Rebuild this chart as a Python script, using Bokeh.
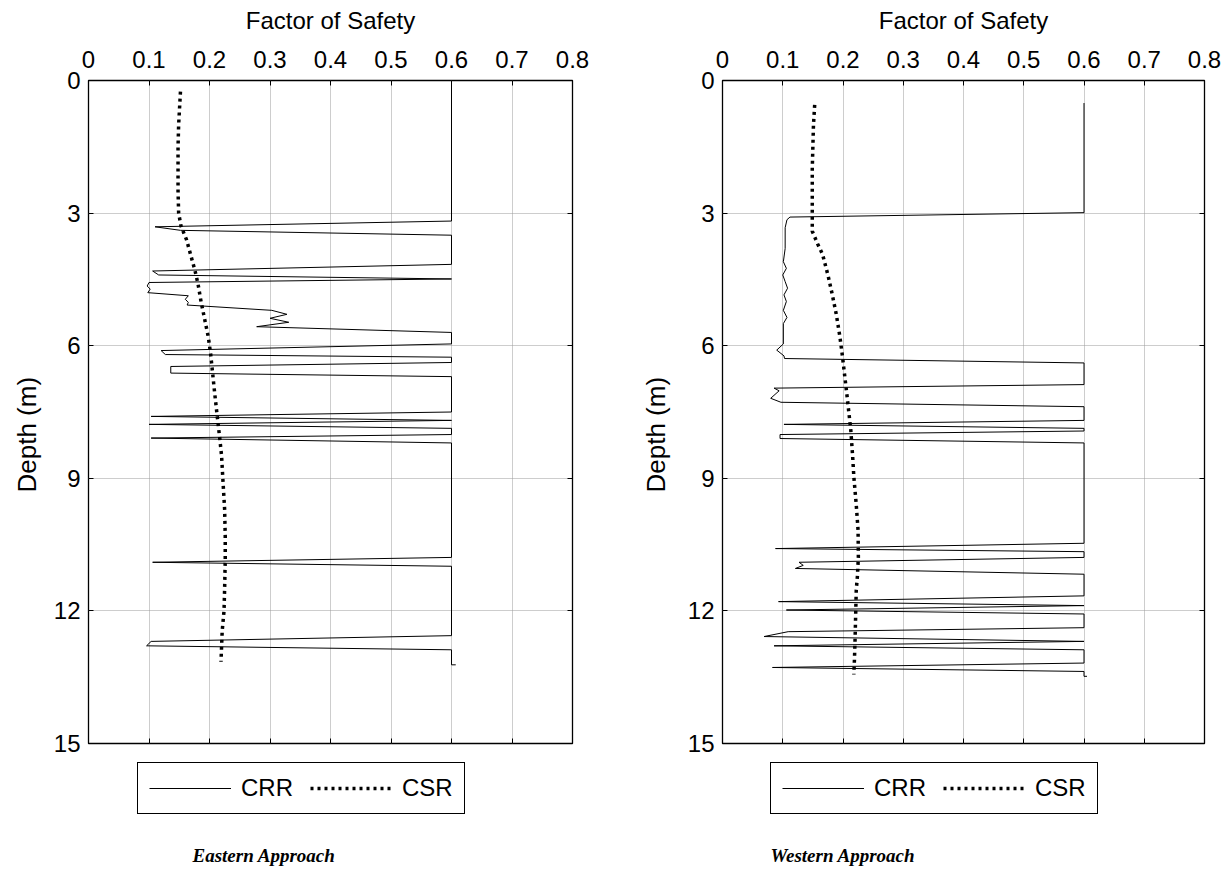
from bokeh.plotting import figure
from bokeh.models import (Range1d, LinearAxis, FixedTicker, NumeralTickFormatter,
                          Legend, LegendItem, Title, Label, CustomJSTickFormatter)
from bokeh.layouts import row, column
from bokeh.embed import file_html
from bokeh.resources import INLINE

# ---------------- data ----------------
x_ticks = [0, 0.1, 0.2, 0.3, 0.4, 0.5, 0.6, 0.7, 0.8]
y_ticks = [0, 3, 6, 9, 12, 15]

# Eastern Approach
east_csr_depth = [0.25, 0.5, 1.0, 1.5, 2.0, 2.5, 3.0, 3.3, 3.6, 4.0, 4.3, 4.6, 5.0, 5.4, 5.8,
                  6.2, 6.6, 7.0, 7.5, 8.1, 8.5, 9.0, 9.7, 10.3, 10.85, 11.5, 12.0, 12.45, 12.8, 13.15]
east_csr_value = [0.152, 0.151, 0.149, 0.148, 0.148, 0.148, 0.149, 0.153, 0.162, 0.170, 0.176,
                  0.181, 0.186, 0.192, 0.198, 0.202, 0.205, 0.208, 0.212, 0.217, 0.220, 0.222,
                  0.225, 0.226, 0.226, 0.225, 0.224, 0.221, 0.220, 0.219]
east_crr_depth = [0.0, 3.18, 3.31, 3.39, 3.5, 4.16, 4.31, 4.40, 4.49, 4.57, 4.65, 4.72, 4.80,
                  4.87, 4.95, 5.02, 5.08, 5.20, 5.29, 5.38, 5.47, 5.57, 5.70, 5.96, 6.11, 6.20,
                  6.26, 6.38, 6.47, 6.62, 6.70, 7.50, 7.60, 7.69, 7.78, 7.87, 8.01, 8.09, 8.20,
                  10.79, 10.90, 10.99, 12.56, 12.69, 12.79, 12.88, 13.22, 13.22]
east_crr_value = [0.6, 0.6, 0.110, 0.152, 0.6, 0.6, 0.106, 0.116, 0.6, 0.100, 0.097, 0.102, 0.098,
                  0.165, 0.160, 0.165, 0.163, 0.303, 0.328, 0.300, 0.331, 0.278, 0.6, 0.6, 0.120,
                  0.127, 0.6, 0.6, 0.136, 0.136, 0.6, 0.6, 0.1035, 0.6, 0.100, 0.6, 0.6, 0.1035,
                  0.6, 0.6, 0.106, 0.6, 0.6, 0.1035, 0.096, 0.6, 0.6, 0.607]

# Western Approach
west_csr_depth = [0.55, 1.0, 1.5, 2.0, 2.5, 3.0, 3.41, 3.7, 3.93, 4.4, 4.83, 5.3, 5.81, 6.23,
                  6.7, 7.17, 7.92, 8.5, 8.97, 9.6, 10.17, 10.78, 11.2, 11.53, 12.1, 12.66, 13.1, 13.44]
west_csr_value = [0.153, 0.151, 0.150, 0.149, 0.149, 0.149, 0.149, 0.158, 0.166, 0.175, 0.182,
                  0.189, 0.195, 0.199, 0.203, 0.207, 0.213, 0.216, 0.218, 0.222, 0.225, 0.2255,
                  0.224, 0.222, 0.221, 0.220, 0.219, 0.218]
west_crr_depth = [0.51, 2.99, 3.09, 3.15, 3.33, 3.8, 4.1, 4.25, 4.4, 4.55, 4.7, 4.85, 5.0, 5.2,
                  5.36, 5.5, 5.96, 6.10, 6.23, 6.29, 6.39, 6.88, 6.96, 7.02, 7.19, 7.28, 7.38,
                  7.69, 7.78, 7.87, 7.93, 8.01, 8.10, 8.20, 10.47, 10.59, 10.66, 10.79, 10.90,
                  10.97, 11.04, 11.17, 11.66, 11.79, 11.88, 11.98, 12.07, 12.38, 12.47, 12.58,
                  12.69, 12.79, 12.88, 13.18, 13.28, 13.37, 13.48, 13.48]
west_crr_value = [0.6, 0.6, 0.112, 0.107, 0.104, 0.104, 0.101, 0.106, 0.100, 0.104, 0.108, 0.102,
                  0.106, 0.101, 0.107, 0.101, 0.101, 0.090, 0.102, 0.103, 0.6, 0.6, 0.0856, 0.094,
                  0.080, 0.097, 0.6, 0.6, 0.102, 0.6, 0.6, 0.0955, 0.0955, 0.6, 0.6, 0.088, 0.6,
                  0.6, 0.127, 0.134, 0.121, 0.6, 0.6, 0.093, 0.6, 0.106, 0.6, 0.6, 0.109, 0.069,
                  0.6, 0.0856, 0.6, 0.6, 0.083, 0.6, 0.6, 0.605]

series_names = ["CRR", "CSR"]
FONT = "Liberation Sans"

CRR_STYLE = dict(line_color="black", line_width=1)
CSR_STYLE = dict(line_color="black", line_width=3.5, line_dash="3 4")


def make_main(crr_v, crr_d, csr_v, csr_d, width, left_b, right_b, ylabel_offset,
              ylabel_standoff):
    p = figure(width=width, height=760, x_range=Range1d(0, 0.8), y_range=Range1d(15, 0),
               x_axis_location="above", output_backend="svg", toolbar_location=None,
               min_border_left=left_b, min_border_right=right_b,
               min_border_top=80, min_border_bottom=17)
    p.background_fill_color = "white"
    p.border_fill_color = "white"
    p.outline_line_color = "black"
    p.outline_line_width = 1.3

    xa = p.xaxis[0]
    xa.ticker = FixedTicker(ticks=x_ticks)
    xa.formatter = NumeralTickFormatter(format="0.[0]")
    xa.axis_label = "Factor of Safety"
    xa.axis_label_text_font = FONT
    xa.axis_label_text_font_size = "24px"
    xa.axis_label_text_font_style = "normal"
    xa.axis_label_text_color = "black"
    xa.axis_label_standoff = 14
    xa.major_label_text_font = FONT
    xa.major_label_text_font_size = "24px"
    xa.major_label_text_color = "black"
    xa.major_label_standoff = 13
    xa.major_tick_in = 5
    xa.major_tick_out = 0
    xa.minor_tick_line_color = None
    xa.axis_line_color = None

    ya = p.yaxis[0]
    ya.ticker = FixedTicker(ticks=y_ticks)
    ya.major_label_text_font = FONT
    ya.major_label_text_font_size = "24px"
    ya.major_label_text_color = "black"
    ya.major_label_standoff = 8
    ya.major_tick_in = 5
    ya.major_tick_out = 0
    ya.minor_tick_line_color = None
    ya.axis_line_color = None

    yt = Title(text="Depth (m)", align="left", offset=ylabel_offset, text_font=FONT,
               text_font_size="26px", text_font_style="normal", text_color="black",
               standoff=ylabel_standoff)
    p.add_layout(yt, "left")

    blank = CustomJSTickFormatter(code="return ''")
    ra = LinearAxis(ticker=FixedTicker(ticks=y_ticks), formatter=blank,
                    major_tick_in=5, major_tick_out=0, minor_tick_line_color=None,
                    axis_line_color=None, major_label_standoff=0)
    p.add_layout(ra, "right")
    ba = LinearAxis(ticker=FixedTicker(ticks=x_ticks), formatter=blank,
                    major_tick_in=5, major_tick_out=0, minor_tick_line_color=None,
                    axis_line_color=None, major_label_standoff=0)
    p.add_layout(ba, "below")

    for g in (p.xgrid[0], p.ygrid[0]):
        g.grid_line_color = "#9a9a9a"
        g.grid_line_dash = "1 1"
        g.grid_line_width = 1
    p.xgrid[0].ticker = FixedTicker(ticks=x_ticks[1:-1])
    p.ygrid[0].ticker = FixedTicker(ticks=y_ticks[1:-1])

    p.line(crr_v, crr_d, **CRR_STYLE)
    p.line(csr_v, csr_d, **CSR_STYLE)
    return p


def make_foot(caption, crr_v, crr_d, csr_v, csr_d, width, left_b, right_b,
              legend_x, caption_x):
    fw = width - left_b - right_b
    f = figure(width=width, height=115, x_range=Range1d(0, fw), y_range=Range1d(0, 115),
               x_axis_location=None, y_axis_location=None, output_backend="svg",
               toolbar_location=None, min_border_left=left_b, min_border_right=right_b,
               min_border_top=0, min_border_bottom=0)
    f.outline_line_color = None
    f.background_fill_color = "white"
    f.border_fill_color = "white"
    f.xgrid.visible = False
    f.ygrid.visible = False
    # hidden copies of the series: they only supply the legend samples
    r1 = f.line(crr_v, crr_d, visible=False, **CRR_STYLE)
    r2 = f.line(csr_v, csr_d, visible=False, **CSR_STYLE)
    leg = Legend(items=[LegendItem(label=series_names[0], renderers=[r1]),
                        LegendItem(label=series_names[1], renderers=[r2])],
                 orientation="horizontal", location=(legend_x, 61),
                 border_line_color="black", border_line_width=1, border_line_alpha=1.0,
                 label_text_font=FONT, label_text_font_size="24px",
                 label_text_color="black", inactive_fill_alpha=0.0,
                 glyph_width=82, glyph_height=20, label_standoff=10, spacing=17,
                 padding=11, margin=0, background_fill_color="white",
                 background_fill_alpha=1.0)
    f.add_layout(leg, "center")
    f.add_layout(Label(x=caption_x, y=20, text=caption, text_align="left",
                       text_baseline="middle", text_font="Liberation Serif",
                       text_font_style="bold italic", text_font_size="19px",
                       text_color="black"))
    return f


p1 = make_main(east_crr_value, east_crr_depth, east_csr_value, east_csr_depth,
               615, 88, 43, 251, 18)
p2 = make_main(west_crr_value, west_crr_depth, west_csr_value, west_csr_depth,
               616, 107, 27, 251, 28)
f1 = make_foot("Eastern Approach", east_crr_value, east_crr_depth, east_csr_value,
               east_csr_depth, 615, 88, 43, 49, 104)
f2 = make_foot("Western Approach", west_crr_value, west_crr_depth, west_csr_value,
               west_csr_depth, 616, 107, 27, 48, 48)

layout = row(column(p1, f1, spacing=0), column(p2, f2, spacing=0), spacing=0)
open("out.html", "w").write(file_html(layout, INLINE))
